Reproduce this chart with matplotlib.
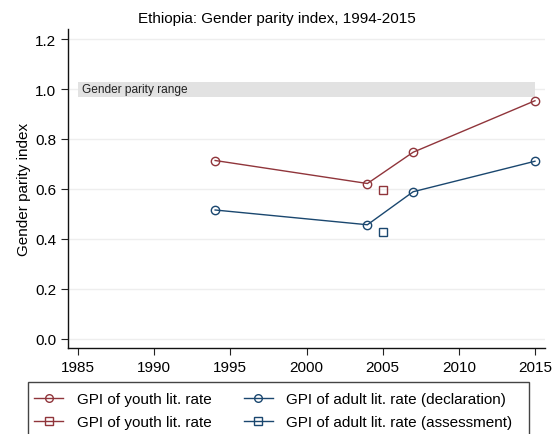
import matplotlib
matplotlib.use("Agg")
import matplotlib.pyplot as plt
from matplotlib.lines import Line2D
from matplotlib.patches import Rectangle

plt.rcParams['font.family'] = ['Liberation Sans', 'DejaVu Sans']

title = "Ethiopia: Gender parity index, 1994-2015"
ylabel = "Gender parity index"
band_label = "Gender parity range"
band_low, band_high = 0.97, 1.03
band_x = [1985, 2015]

youth_decl_years = [1994, 2004, 2007, 2015]
youth_decl_vals = [0.714, 0.622, 0.747, 0.953]
youth_assess_years = [2005]
youth_assess_vals = [0.596]
adult_decl_years = [1994, 2004, 2007, 2015]
adult_decl_vals = [0.516, 0.457, 0.589, 0.711]
adult_assess_years = [2005]
adult_assess_vals = [0.429]

labels = ["GPI of youth lit. rate", "GPI of youth lit. rate",
          "GPI of adult lit. rate (declaration)", "GPI of adult lit. rate (assessment)"]
xticks = [1985, 1990, 1995, 2000, 2005, 2010, 2015]
yticks = [0.0, 0.2, 0.4, 0.6, 0.8, 1.0, 1.2]

red = "#90353b"
blue = "#1a476f"
FS = 11

W, H = 559, 435
fig = plt.figure(figsize=(W/100, H/100), dpi=100)
ax = fig.add_axes([68/W, 1-349/H, (545-68)/W, (349-30)/H])

ax.set_xlim(1984.34, 2015.66)
ax.set_ylim(-0.036, 1.24)

for y in yticks:
    ax.axhline(y, color="#eeeeee", lw=1.0, zorder=0)

ax.fill_between(band_x, band_low, band_high, color="#e2e2e2", lw=0, zorder=1)
ax.text(band_x[0] + 0.25, (band_low + band_high) / 2, band_label, fontsize=8.6,
        va='center', ha='left', color='#222222', zorder=2)

ms = 6
ax.plot(youth_decl_years, youth_decl_vals, color=red, lw=1, marker='o', ms=ms,
        mfc='none', mec=red, mew=1, zorder=3)
ax.plot(youth_assess_years, youth_assess_vals, color=red, lw=1, marker='s', ms=ms,
        mfc='none', mec=red, mew=1, zorder=3)
ax.plot(adult_decl_years, adult_decl_vals, color=blue, lw=1, marker='o', ms=ms,
        mfc='none', mec=blue, mew=1, zorder=3)
ax.plot(adult_assess_years, adult_assess_vals, color=blue, lw=1, marker='s', ms=ms,
        mfc='none', mec=blue, mew=1, zorder=3)

ax.set_xticks(xticks)
ax.set_yticks(yticks)
ax.set_yticklabels([f"{v:.1f}" for v in yticks])
ax.tick_params(axis='both', labelsize=FS, length=5, width=0.8, color='#222222')
for s in ['top', 'right']:
    ax.spines[s].set_visible(False)
for s in ['left', 'bottom']:
    ax.spines[s].set_linewidth(1.0)
    ax.spines[s].set_color('#111111')

ax.set_ylabel(ylabel, fontsize=FS, labelpad=3)
fig.text(277/W, 1-19/H, title, ha='center', va='center', fontsize=FS)

# legend frame (clipped at figure bottom as in reference)
fig.patches.append(Rectangle((28/W, -0.05), (529-28)/W, (1-383/H) + 0.05,
                             transform=fig.transFigure, fill=False,
                             edgecolor='#444444', lw=1.0))

def lh(c, m):
    return Line2D([0], [0], color=c, lw=1, marker=m, ms=5.5, mfc='none', mec=c, mew=1)
handles = [lh(red, 'o'), lh(red, 's'), lh(blue, 'o'), lh(blue, 's')]
leg = fig.legend(handles, labels, ncol=2, loc='upper left',
                 bbox_to_anchor=(34/W, 1-393/H), fontsize=FS, frameon=False,
                 handlelength=1.9, handletextpad=0.9, borderpad=0,
                 labelspacing=0.6, columnspacing=2.1, borderaxespad=0)

fig.savefig("out.png", dpi=100)
